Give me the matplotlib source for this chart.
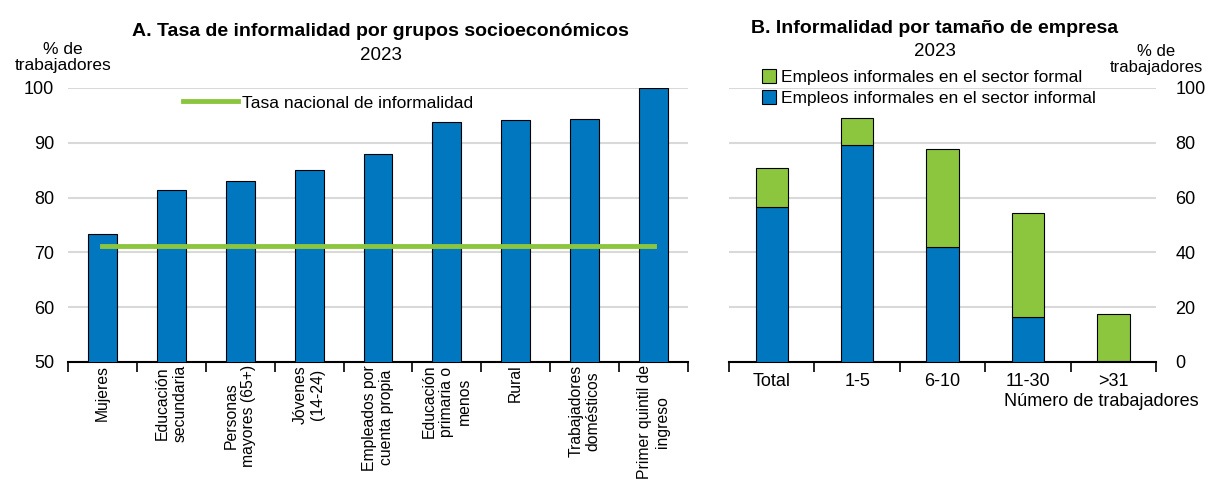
import numpy as np
import matplotlib
matplotlib.use("Agg")
import matplotlib.pyplot as plt
from matplotlib.patches import Patch
from matplotlib.lines import Line2D

plt.rcParams['font.family'] = ['Liberation Sans', 'DejaVu Sans']

azul = '#0077BE'
verde = '#8CC63F'
gris = '#D9D9D9'

# Panel A
grupos = ['Mujeres', 'Educación\nsecundaria', 'Personas\nmayores (65+)', 'Jóvenes\n(14-24)',
          'Empleados por\ncuenta propia', 'Educación\nprimaria o\nmenos', 'Rural',
          'Trabajadores\ndomésticos', 'Primer quintil de\ningreso']
tasas = [73.3, 81.4, 83.0, 85.0, 88.0, 93.8, 94.2, 94.4, 100.0]
tasa_nacional = 71.2

# Panel B
tamanos = ['Total', '1-5', '6-10', '11-30', '>31']
sector_informal = [56.6, 79.2, 42.0, 16.4, 0.5]
sector_formal = [14.3, 9.8, 35.7, 38.0, 17.0]

fig = plt.figure(figsize=(12.08, 4.79), dpi=100)

# ---- A ----
ax1 = fig.add_axes([0.0563, 0.2443, 0.5132, 0.572])
x = np.arange(len(grupos))
ax1.bar(x, tasas, width=0.42, color=azul, edgecolor='black', linewidth=0.8, zorder=3)
ax1.plot([x[0], x[-1]], [tasa_nacional] * 2, color=verde, lw=3.5, zorder=4)
ax1.set_ylim(50, 100)
ax1.set_xlim(-0.5, len(grupos) - 0.5)
ax1.set_yticks(range(50, 101, 10))
ax1.yaxis.grid(True, color=gris, lw=1.5, zorder=0)
ax1.set_xticks(x)
ax1.set_xticklabels(grupos, rotation=90, fontsize=11.3, va='top', ha='center',
                    multialignment='center', linespacing=1.2)
ax1.set_xticks(np.arange(-0.5, len(grupos), 1), minor=True)
ax1.tick_params(axis='x', which='major', length=0, pad=2)
ax1.tick_params(axis='x', which='minor', length=7, width=1.2, direction='out')
ax1.tick_params(axis='y', length=0, labelsize=13, pad=10)
for s in ['top', 'right', 'left']:
    ax1.spines[s].set_visible(False)
ax1.spines['bottom'].set_linewidth(1.5)
ax1.legend(handles=[Line2D([], [], color=verde, lw=3.5)], labels=['Tasa nacional de informalidad'],
           loc='upper left', bbox_to_anchor=(0.16, 1.03), frameon=False, fontsize=12.5,
           handlelength=3.2, handletextpad=0.2)
fig.text(0.315, 0.935, 'A. Tasa de informalidad por grupos socioeconómicos', ha='center',
         va='center', fontsize=14, fontweight='bold')
fig.text(0.315, 0.885, '2023', ha='center', va='center', fontsize=13.5)
fig.text(0.052, 0.88, '% de\ntrabajadores', ha='center', va='center', fontsize=12.5, linespacing=1.1)

# ---- B ----
ax2 = fig.add_axes([0.6035, 0.2443, 0.3535, 0.572])
xb = np.arange(len(tamanos))
ax2.bar(xb, sector_informal, width=0.38, color=azul, edgecolor='black', linewidth=0.8, zorder=3)
ax2.bar(xb, sector_formal, width=0.38, bottom=sector_informal, color=verde, edgecolor='black',
        linewidth=0.8, zorder=3)
ax2.set_ylim(0, 100)
ax2.set_xlim(-0.5, len(tamanos) - 0.5)
ax2.set_yticks(range(0, 101, 20))
ax2.yaxis.grid(True, color=gris, lw=1.5, zorder=0)
ax2.yaxis.tick_right()
ax2.set_xticks(xb)
ax2.set_xticklabels(tamanos, fontsize=13)
ax2.set_xticks(np.arange(-0.5, len(tamanos), 1), minor=True)
ax2.tick_params(axis='x', which='major', length=0, pad=8)
ax2.tick_params(axis='x', which='minor', length=7, width=1.2, direction='out')
ax2.tick_params(axis='y', length=0, labelsize=13, pad=14)
for s in ['top', 'right', 'left']:
    ax2.spines[s].set_visible(False)
ax2.spines['bottom'].set_linewidth(1.5)
ax2.legend(handles=[Patch(facecolor=verde, edgecolor='black', lw=0.8),
                    Patch(facecolor=azul, edgecolor='black', lw=0.8)],
           labels=['Empleos informales en el sector formal', 'Empleos informales en el sector informal'],
           loc='upper left', bbox_to_anchor=(0.04, 1.125), frameon=False, fontsize=12.5,
           handlelength=0.8, handleheight=0.8, handletextpad=0.3, labelspacing=0.3)
fig.text(0.774, 0.94, 'B. Informalidad por tamaño de empresa', ha='center', va='center',
         fontsize=14, fontweight='bold')
fig.text(0.774, 0.892, '2023', ha='center', va='center', fontsize=13.5)
fig.text(0.957, 0.875, '% de\ntrabajadores', ha='center', va='center', fontsize=12, linespacing=1.1)
fig.text(0.992, 0.162, 'Número de trabajadores', ha='right', va='center', fontsize=13)

fig.savefig('out.png', dpi=100)
